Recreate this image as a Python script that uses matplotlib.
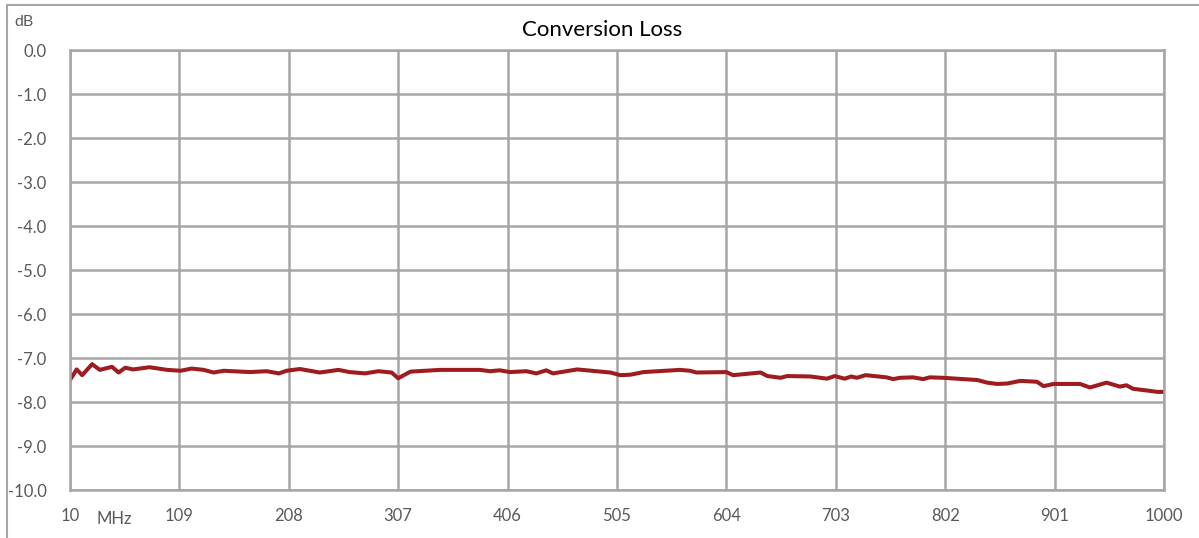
import numpy as np
import matplotlib
matplotlib.use("Agg")
import matplotlib.pyplot as plt
from matplotlib.patches import Rectangle

# frequency (MHz) and conversion loss (dB)
freq_mhz = [10, 16, 21, 30, 37, 48, 54, 60, 67, 82, 98, 110, 120, 131, 140,
            149, 173, 188, 199, 206, 218, 236, 253, 263, 277, 289, 301, 307,
            318, 345, 381, 390, 399, 408, 423, 432, 441, 447, 469, 499, 508,
            517, 529, 562, 571, 577, 604, 610, 635, 641, 653, 659, 680, 695,
            702, 711, 717, 722, 730, 749, 755, 761, 773, 782, 788, 800, 831,
            840, 849, 858, 870, 885, 891, 900, 924, 933, 948, 960, 966, 972,
            985, 994, 1000]
loss_db = [-7.50, -7.26, -7.39, -7.14, -7.27, -7.20, -7.33, -7.22, -7.26,
           -7.21, -7.27, -7.29, -7.24, -7.27, -7.33, -7.29, -7.32, -7.30,
           -7.35, -7.29, -7.25, -7.33, -7.27, -7.32, -7.35, -7.30, -7.33,
           -7.46, -7.31, -7.27, -7.27, -7.30, -7.28, -7.32, -7.30, -7.35,
           -7.28, -7.35, -7.26, -7.33, -7.39, -7.38, -7.32, -7.27, -7.29,
           -7.33, -7.32, -7.39, -7.33, -7.41, -7.45, -7.41, -7.42, -7.47,
           -7.41, -7.47, -7.42, -7.45, -7.39, -7.44, -7.48, -7.45, -7.44,
           -7.48, -7.44, -7.45, -7.50, -7.56, -7.59, -7.58, -7.52, -7.54,
           -7.64, -7.59, -7.59, -7.67, -7.56, -7.65, -7.62, -7.70, -7.74,
           -7.77, -7.77]

x_ticks = [10, 109, 208, 307, 406, 505, 604, 703, 802, 901, 1000]
y_ticks = [0.0, -1.0, -2.0, -3.0, -4.0, -5.0, -6.0, -7.0, -8.0, -9.0, -10.0]

grid_c = "#a6a6a6"
text_c = "#595959"
plt.rcParams["font.family"] = ["Lato", "DejaVu Sans"]

fig = plt.figure(figsize=(11.99, 5.38), dpi=100)
# outer chart frame, cut off at the right and bottom like the source
fig.patches.append(Rectangle((7 / 1199, -0.2), 1.2, 1.2 - 5 / 538, transform=fig.transFigure,
                             fill=False, edgecolor="#a6a6a6", linewidth=1.5))
ax = fig.add_axes([70 / 1199, 1 - 490 / 538, 1094 / 1199, 440 / 538])

ax.plot(freq_mhz, loss_db, color="#9e1b20", linewidth=2.9, solid_joinstyle="round",
        solid_capstyle="butt")

ax.set_xlim(10, 1000)
ax.set_ylim(-10, 0)
ax.set_xticks(x_ticks)
ax.set_xticklabels([str(t) for t in x_ticks])
ax.set_yticks(y_ticks)
ax.set_yticklabels([f"{t:.1f}" for t in y_ticks])
ax.grid(True, color=grid_c, linewidth=1.8)
ax.set_axisbelow(True)
for spine in ax.spines.values():
    spine.set_color(grid_c)
    spine.set_linewidth(1.8)
ax.tick_params(length=0, colors=text_c, labelsize=12)
ax.tick_params(axis="x", pad=13)
ax.tick_params(axis="y", pad=17)

fig.text(0.5 + 3 / 1199, 1 - 30 / 538, "Conversion Loss", fontsize=16, color="#000000",
         ha="center", va="center")
fig.text(14 / 1199, 1 - 22 / 538, "dB", fontsize=11.5, color=text_c, va="center")
fig.text(96 / 1199, 1 - 519 / 538, "MHz", fontsize=12, color=text_c, va="center")

fig.savefig("out.png", dpi=100)
